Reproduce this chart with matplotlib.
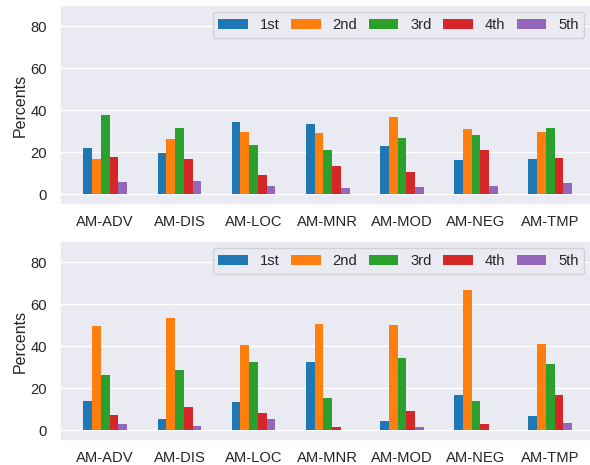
import numpy as np
import matplotlib
matplotlib.use("Agg")
import matplotlib.pyplot as plt
import seaborn as sns

categories = ["AM-ADV", "AM-DIS", "AM-LOC", "AM-MNR", "AM-MOD", "AM-NEG", "AM-TMP"]
series_names = ["1st", "2nd", "3rd", "4th", "5th"]

# percentages per position, top panel
top_1st = [22.1, 19.5, 34.3, 33.3, 23.0, 16.2, 16.7]
top_2nd = [16.7, 26.3, 29.7, 29.2, 36.8, 31.1, 29.7]
top_3rd = [37.6, 31.6, 23.5, 21.0, 26.7, 28.3, 31.6]
top_4th = [17.8, 16.8, 9.2, 13.5, 10.6, 21.0, 17.3]
top_5th = [5.9, 6.3, 4.0, 3.0, 3.5, 4.0, 5.4]

# percentages per position, bottom panel
bot_1st = [14.1, 5.6, 13.7, 32.7, 4.6, 17.0, 7.0]
bot_2nd = [49.4, 53.3, 40.4, 50.4, 49.9, 66.6, 41.3]
bot_3rd = [26.5, 28.5, 32.3, 15.6, 34.2, 14.1, 31.8]
bot_4th = [7.5, 11.3, 8.4, 1.7, 9.4, 3.2, 17.0]
bot_5th = [3.2, 2.2, 5.6, 0.2, 1.7, 0.2, 3.7]

top_series = [top_1st, top_2nd, top_3rd, top_4th, top_5th]
bot_series = [bot_1st, bot_2nd, bot_3rd, bot_4th, bot_5th]

sns.set_theme(style="darkgrid")
plt.rcParams["font.family"] = ["Liberation Sans", "DejaVu Sans"]

colors = ["#1f77b4", "#ff7f0e", "#2ca02c", "#d62728", "#9467bd"]

fig = plt.figure(figsize=(5.9, 4.65), dpi=100)
ax_top = fig.add_axes([60 / 590, (465 - 205) / 465, 1 - 60 / 590 + 0.003, 200 / 465])
ax_bot = fig.add_axes([60 / 590, (465 - 441) / 465, 1 - 60 / 590 + 0.003, 200 / 465])

x = np.arange(len(categories))
bw = 0.118


def draw(ax, series):
    n = len(series)
    for i, (vals, name, c) in enumerate(zip(series, series_names, colors)):
        offs = (i - (n - 1) / 2) * bw
        ax.bar(x + offs, vals, width=bw, color=c, label=name, linewidth=0)
    ax.set_xticks(x)
    ax.set_xticklabels(categories, fontsize=10.6)
    ax.tick_params(axis="x", pad=1.0)
    ax.set_xlim(-0.61, 6.56)
    ax.set_ylim(-5, 90)
    ax.set_yticks([0, 20, 40, 60, 80])
    ax.tick_params(axis="y", labelsize=10.6)
    ax.set_ylabel("Percents", fontsize=11.5, labelpad=2)
    ax.grid(axis="x", visible=False)
    ax.legend(loc="upper right", ncol=5, fontsize=10.6, columnspacing=0.8,
              handletextpad=0.8, borderaxespad=0.5)


draw(ax_top, top_series)
draw(ax_bot, bot_series)

fig.savefig("out.png", dpi=100)
